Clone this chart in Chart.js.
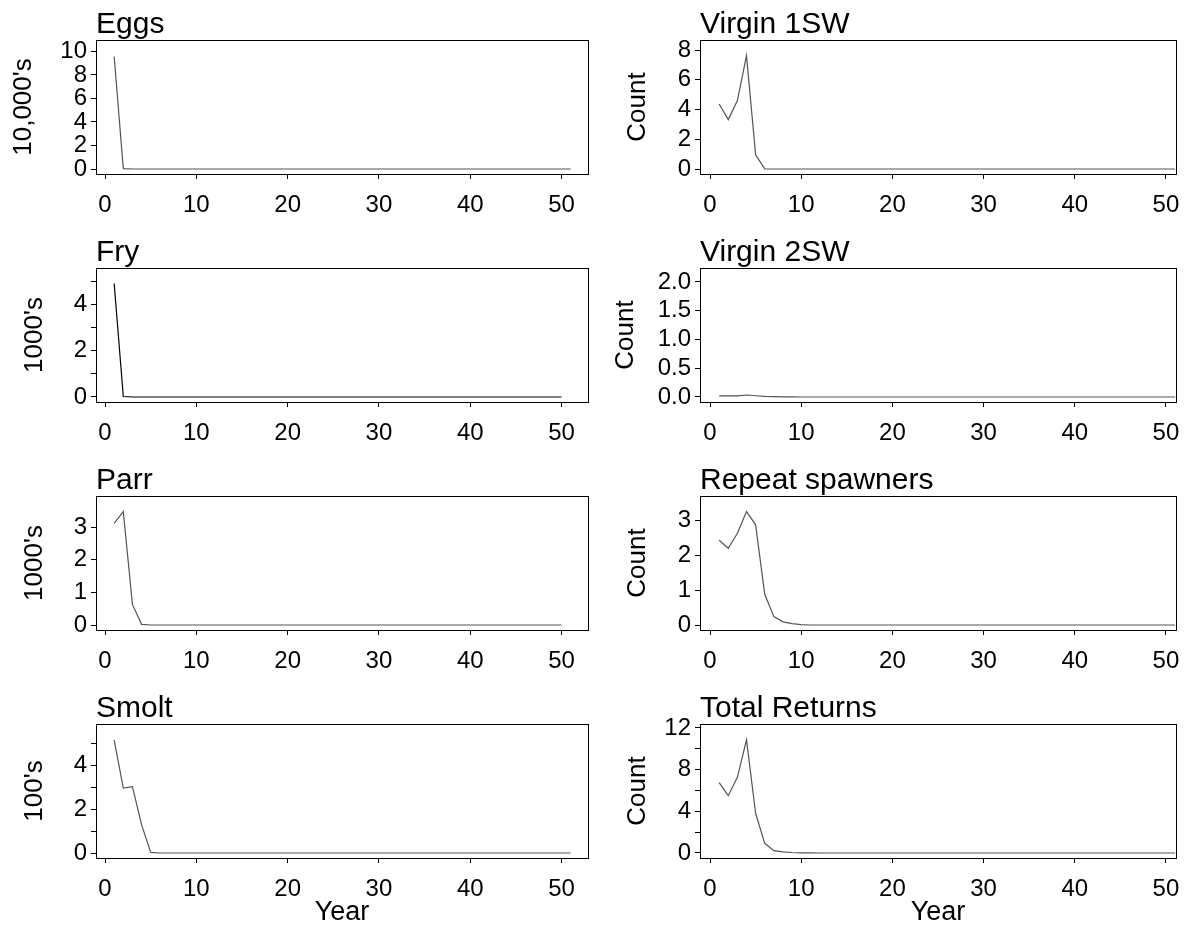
<!DOCTYPE html>
<html>
<head>
<meta charset="utf-8">
<script src="https://cdn.jsdelivr.net/npm/chart.js@4.4.1/dist/chart.umd.min.js"></script>
<style>
  html, body { margin: 0; padding: 0; background: #fff; }
  body { width: 1194px; height: 936px; position: relative; overflow: hidden; }
  .panel { position: absolute; }
</style>
</head>
<body>
<div id="panels"></div>
<script>
const years = [1, 2, 3, 4, 5, 6, 7, 8, 9, 10, 11, 12, 13, 14, 15, 16, 17, 18, 19, 20,
  21, 22, 23, 24, 25, 26, 27, 28, 29, 30, 31, 32, 33, 34, 35, 36, 37, 38, 39, 40,
  41, 42, 43, 44, 45, 46, 47, 48, 49, 50, 51];

const xTicks = [0, 10, 20, 30, 40, 50];

// series (51 or 50 years)
const eggs = [9.57, 0.03,
  0, 0, 0, 0, 0, 0, 0, 0, 0, 0,  0, 0, 0, 0, 0, 0, 0, 0, 0, 0,
  0, 0, 0, 0, 0, 0, 0, 0, 0, 0,  0, 0, 0, 0, 0, 0, 0, 0, 0, 0,
  0, 0, 0, 0, 0, 0, 0, 0, 0];
const fry = [4.90, 0.02,
  0, 0, 0, 0, 0, 0, 0, 0, 0, 0,  0, 0, 0, 0, 0, 0, 0, 0, 0, 0,
  0, 0, 0, 0, 0, 0, 0, 0, 0, 0,  0, 0, 0, 0, 0, 0, 0, 0, 0, 0,
  0, 0, 0, 0, 0, 0, 0, 0];
const parr = [3.11, 3.47, 0.63, 0.02,
  0, 0, 0, 0, 0, 0, 0, 0, 0, 0,  0, 0, 0, 0, 0, 0, 0, 0, 0, 0,
  0, 0, 0, 0, 0, 0, 0, 0, 0, 0,  0, 0, 0, 0, 0, 0, 0, 0, 0, 0,
  0, 0, 0, 0, 0, 0];
const smolt = [5.18, 2.98, 3.04, 1.30, 0.03,
  0, 0, 0, 0, 0, 0, 0, 0, 0, 0,  0, 0, 0, 0, 0, 0, 0, 0, 0, 0,
  0, 0, 0, 0, 0, 0, 0, 0, 0, 0,  0, 0, 0, 0, 0, 0, 0, 0, 0, 0,
  0, 0, 0, 0, 0, 0];
const virgin1SW = [4.37, 3.32, 4.60, 7.62, 0.96, 0.01,
  0, 0, 0, 0, 0, 0, 0, 0, 0, 0,  0, 0, 0, 0, 0, 0, 0, 0, 0, 0,
  0, 0, 0, 0, 0, 0, 0, 0, 0, 0,  0, 0, 0, 0, 0, 0, 0, 0, 0, 0,
  0, 0, 0, 0, 0];
const virgin2SW = [0.02, 0.02, 0.02, 0.035, 0.022, 0.012, 0.006, 0.003, 0.001,
  0, 0, 0, 0, 0, 0, 0, 0, 0, 0,  0, 0, 0, 0, 0, 0, 0, 0, 0, 0,
  0, 0, 0, 0, 0, 0, 0, 0, 0, 0,  0, 0, 0, 0, 0, 0, 0, 0, 0, 0,
  0, 0];
const repeatSpawners = [2.43, 2.20, 2.63, 3.25, 2.87, 0.88, 0.24, 0.09, 0.04, 0.01,
  0, 0, 0, 0, 0, 0, 0, 0, 0, 0,  0, 0, 0, 0, 0, 0, 0, 0, 0, 0,
  0, 0, 0, 0, 0, 0, 0, 0, 0, 0,  0, 0, 0, 0, 0, 0, 0, 0, 0, 0,
  0];
const totalReturns = [6.75, 5.50, 7.26, 10.85, 3.81, 0.93, 0.22, 0.10, 0.05, 0.02, 0.01,
  0, 0, 0, 0, 0, 0, 0, 0, 0, 0,  0, 0, 0, 0, 0, 0, 0, 0, 0, 0,
  0, 0, 0, 0, 0, 0, 0, 0, 0, 0,  0, 0, 0, 0, 0, 0, 0, 0, 0, 0];

// y tick values and their labels ('' = unlabelled tick)
const eggsTicks = [0, 2, 4, 6, 8, 10];
const eggsLabels = ['0', '2', '4', '6', '8', '10'];
const fryTicks = [0, 1, 2, 3, 4, 5];
const fryLabels = ['0', '', '2', '', '4', ''];
const parrTicks = [0, 1, 2, 3];
const parrLabels = ['0', '1', '2', '3'];
const smoltTicks = [0, 1, 2, 3, 4, 5];
const smoltLabels = ['0', '', '2', '', '4', ''];
const v1Ticks = [0, 2, 4, 6, 8];
const v1Labels = ['0', '2', '4', '6', '8'];
const v2Ticks = [0, 0.5, 1, 1.5, 2];
const v2Labels = ['0.0', '0.5', '1.0', '1.5', '2.0'];
const repTicks = [0, 1, 2, 3];
const repLabels = ['0', '1', '2', '3'];
const totTicks = [0, 2, 4, 6, 8, 10, 12];
const totLabels = ['0', '', '4', '', '8', '', '12'];

const FONT = '"Liberation Sans", Arial, Helvetica, sans-serif';

const panels = [
  { title: 'Eggs', ylab: "10,000's", values: eggs, ticks: eggsTicks, labels: eggsLabels, ymin: -0.425, ymax: 10.97, col: 0, row: 0, ylabX: 23.5, color: '#555' },
  { title: 'Fry', ylab: "1000's", values: fry, ticks: fryTicks, labels: fryLabels, ymin: -0.216, ymax: 5.572, col: 0, row: 1, ylabX: 34.5, color: '#000' },
  { title: 'Parr', ylab: "1000's", values: parr, ticks: parrTicks, labels: parrLabels, ymin: -0.153, ymax: 3.949, col: 0, row: 2, ylabX: 34.5, color: '#555' },
  { title: 'Smolt', ylab: "100's", values: smolt, ticks: smoltTicks, labels: smoltLabels, ymin: -0.229, ymax: 5.917, col: 0, row: 3, ylabX: 34.5, color: '#555' },
  { title: 'Virgin 1SW', ylab: 'Count', values: virgin1SW, ticks: v1Ticks, labels: v1Labels, ymin: -0.336, ymax: 8.675, col: 1, row: 0, ylabX: 38, color: '#555' },
  { title: 'Virgin 2SW', ylab: 'Count', values: virgin2SW, ticks: v2Ticks, labels: v2Labels, ymin: -0.087, ymax: 2.243, col: 1, row: 1, ylabX: 25.5, color: '#555' },
  { title: 'Repeat spawners', ylab: 'Count', values: repeatSpawners, ticks: repTicks, labels: repLabels, ymin: -0.143, ymax: 3.696, col: 1, row: 2, ylabX: 38, color: '#555' },
  { title: 'Total Returns', ylab: 'Count', values: totalReturns, ticks: totTicks, labels: totLabels, ymin: -0.48, ymax: 12.38, col: 1, row: 3, ylabX: 38, color: '#555' }
];

// column / row geometry
const colLeft = [0, 600], colWidth = [600, 594];
const yAxisW = [96, 100], padRight = [12, 18];
const xRange = [[-0.99, 52.9], [-1.1, 51.1]];
const rowTop = [40, 268, 496, 724], boxH = 134, titleH = 40;

// box round the plot + panel title
const framePlugin = {
  id: 'frame',
  afterDraw(chart, args, opts) {
    const { ctx, chartArea: a } = chart;
    ctx.save();
    ctx.strokeStyle = '#000';
    ctx.lineWidth = 1;
    ctx.strokeRect(Math.round(a.left) + 0.5, Math.round(a.top) + 0.5, a.right - a.left, a.bottom - a.top);
    ctx.fillStyle = '#000';
    ctx.font = `30px ${FONT}`;
    ctx.textAlign = 'left';
    ctx.textBaseline = 'alphabetic';
    ctx.fillText(opts.text, a.left, a.top - 7);
    ctx.restore();
  }
};

const holder = document.getElementById('panels');

panels.forEach(p => {
  const last = p.row === 3;
  const top = rowTop[p.row] - titleH;
  const height = last ? 936 - top : titleH + boxH + 54;
  const div = document.createElement('div');
  div.className = 'panel';
  div.style.left = colLeft[p.col] + 'px';
  div.style.top = top + 'px';
  div.style.width = colWidth[p.col] + 'px';
  div.style.height = height + 'px';
  const canvas = document.createElement('canvas');
  div.appendChild(canvas);
  holder.appendChild(div);

  const xAxisH = height - titleH - boxH;

  new Chart(canvas, {
    type: 'line',
    data: {
      datasets: [{
        data: p.values.map((v, i) => ({ x: years[i], y: v })),
        borderColor: p.color,
        borderWidth: 1.2,
        pointRadius: 0,
        tension: 0,
        fill: false
      }]
    },
    options: {
      responsive: true,
      maintainAspectRatio: false,
      animation: false,
      events: [],
      layout: { padding: { top: titleH, right: padRight[p.col], left: 0, bottom: 0 } },
      plugins: {
        legend: { display: false },
        tooltip: { enabled: false },
        frame: { text: p.title }
      },
      scales: {
        x: {
          type: 'linear',
          min: xRange[p.col][0],
          max: xRange[p.col][1],
          afterBuildTicks: s => { s.ticks = xTicks.map(v => ({ value: v })); },
          afterFit: s => { s.height = xAxisH; s.paddingLeft = s.paddingRight = 0; },
          grid: { drawOnChartArea: false, drawTicks: true, tickLength: 5, tickColor: '#000', color: '#000' },
          border: { display: false },
          ticks: {
            autoSkip: false, maxRotation: 0, padding: 12, color: '#000',
            font: { family: FONT, size: 24 },
            callback: v => String(v)
          },
          title: {
            display: last, text: 'Year', color: '#000',
            font: { family: FONT, size: 27 },
            padding: { top: 0, bottom: 7 }
          }
        },
        y: {
          type: 'linear',
          min: p.ymin,
          max: p.ymax,
          afterBuildTicks: s => { s.ticks = p.ticks.map(v => ({ value: v })); },
          afterFit: s => { s.width = yAxisW[p.col]; s.paddingTop = s.paddingBottom = 0; },
          grid: { drawOnChartArea: false, drawTicks: true, tickLength: 5, tickColor: '#000', color: '#000' },
          border: { display: false },
          ticks: {
            autoSkip: false, padding: 4, color: '#000',
            font: { family: FONT, size: 24 },
            callback: (v, i) => p.labels[i]
          },
          title: {
            display: true, text: p.ylab, color: '#000',
            font: { family: FONT, size: 26 },
            padding: { top: p.ylabX - 15.6, bottom: 0 }
          }
        }
      }
    },
    plugins: [framePlugin]
  });
});
</script>
</body>
</html>
